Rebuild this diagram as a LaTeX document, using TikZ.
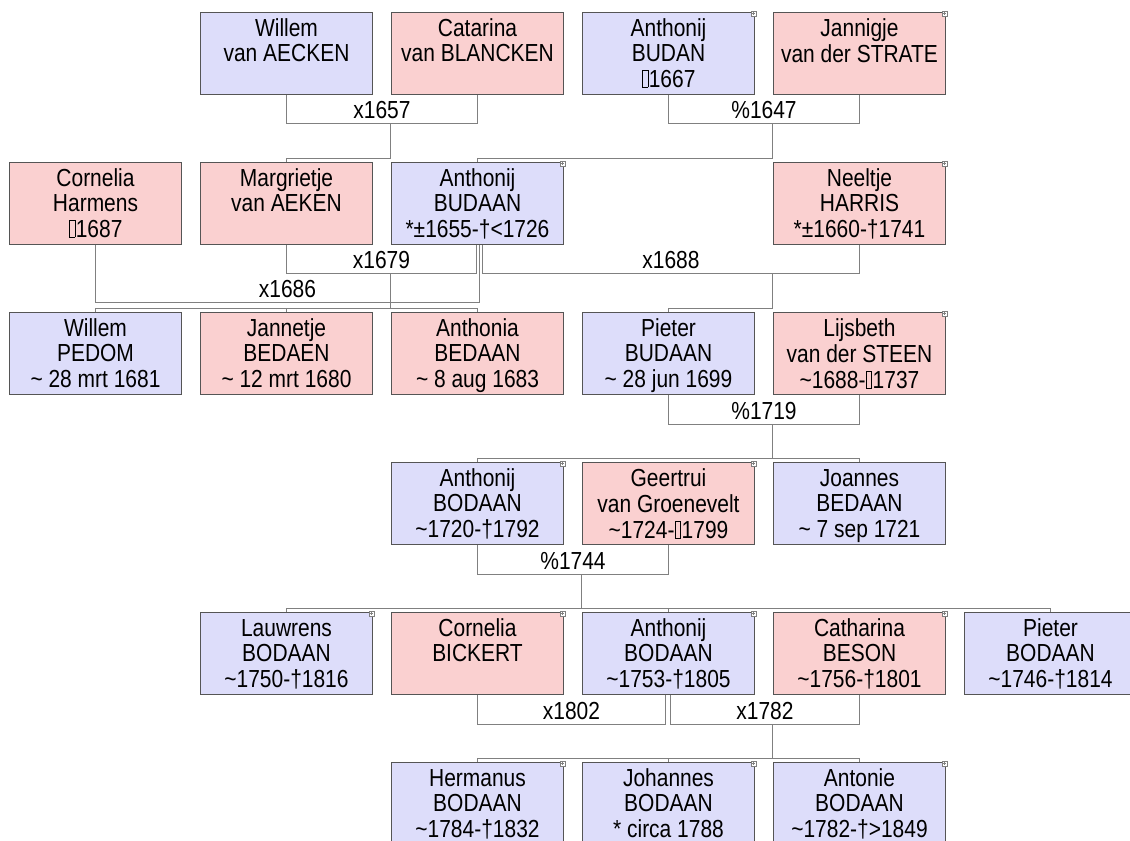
\documentclass[tikz,border=0pt]{standalone}
\usepackage{fontspec}
\setmainfont{Liberation Sans}
\newfontfamily\pfont{Liberation Sans}[FakeStretch=0.85]
\usetikzlibrary{calc}
\definecolor{mblue}{RGB}{221,221,250}
\definecolor{fpink}{RGB}{250,208,208}
\definecolor{bordc}{RGB}{85,85,85}
\definecolor{linec}{RGB}{128,128,128}
\newcommand{\tofu}{\kern0.6pt{\fboxrule=0.55pt\fboxsep=0pt\fbox{\rule{0pt}{12.6pt}\hspace{3.3pt}}}\kern0.4pt}
\newcommand{\tld}{\textasciitilde}
\newcommand{\tsz}{\fontsize{18.5pt}{19.1pt}\selectfont}
\newcommand{\pers}[5]{%
  \node[#2] (#1) at (#3,#4) {};
  \node[ptext] (#1-t) at ($(#1.north)+(0,6)$) {\strut #5};}
\newcommand{\xicon}[1]{%
  \draw[icon] ($(#1.north east)+(-4,-1)$) rectangle ($(#1.north east)+(1,4)$);
  \draw[icon] ($(#1.north east)+(-3,1.5)$) -- ($(#1.north east)+(0,1.5)$)
              ($(#1.north east)+(-1.5,0)$) -- ($(#1.north east)+(-1.5,3)$);}
\begin{document}
\begin{tikzpicture}[x=0.75pt,y=-0.75pt,
  pbox/.style={draw=bordc, line width=0.75pt, minimum width=129pt, minimum height=61.5pt, inner sep=0pt, anchor=north west},
  man/.style={pbox, fill=mblue},
  woman/.style={pbox, fill=fpink},
  ptext/.style={anchor=north, align=center, inner sep=0pt, font=\pfont\tsz},
  conn/.style={draw=linec, line width=0.75pt},
  mlabel/.style={anchor=base, yshift=3.75pt, inner sep=0pt, font=\pfont\tsz},
  icon/.style={draw=linec, fill=white, line width=0.4pt}]
\useasboundingbox (0,0) rectangle (1130,841);
\clip (0,0) rectangle (1130,841);
\fill[white] (0,0) rectangle (1130,841);

% row 1
\pers{wa}{man}{200}{12}{Willem\\van AECKEN}
\pers{cbl}{woman}{391}{12}{Catarina\\van BLANCKEN}
\pers{abn}{man}{582}{12}{Anthonij\\BUDAN\\\tofu1667}
\pers{jvs}{woman}{773}{12}{Jannigje\\van der STRATE}
% row 2
\pers{ch}{woman}{9}{162}{Cornelia\\Harmens\\\tofu1687}
\pers{mva}{woman}{200}{162}{Margrietje\\van AEKEN}
\pers{aba}{man}{391}{162}{Anthonij\\BUDAAN\\*±1655-†<1726}
\pers{nh}{woman}{773}{162}{Neeltje\\HARRIS\\*±1660-†1741}
% row 3
\pers{wp}{man}{9}{312}{Willem\\PEDOM\\\tld{} 28 mrt 1681}
\pers{jb}{woman}{200}{312}{Jannetje\\BEDAEN\\\tld{} 12 mrt 1680}
\pers{anb}{woman}{391}{312}{Anthonia\\BEDAAN\\\tld{} 8 aug 1683}
\pers{pb}{man}{582}{312}{Pieter\\BUDAAN\\\tld{} 28 jun 1699}
\pers{lvs}{woman}{773}{312}{Lijsbeth\\van der STEEN\\\tld1688-\tofu1737}
% row 4
\pers{abo}{man}{391}{462}{Anthonij\\BODAAN\\\tld1720-†1792}
\pers{gvg}{woman}{582}{462}{Geertrui\\van Groenevelt\\\tld1724-\tofu1799}
\pers{jbe}{man}{773}{462}{Joannes\\BEDAAN\\\tld{} 7 sep 1721}
% row 5
\pers{lb}{man}{200}{612}{Lauwrens\\BODAAN\\\tld1750-†1816}
\pers{cbi}{woman}{391}{612}{Cornelia\\BICKERT}
\pers{abd}{man}{582}{612}{Anthonij\\BODAAN\\\tld1753-†1805}
\pers{cbe}{woman}{773}{612}{Catharina\\BESON\\\tld1756-†1801}
\pers{pbo}{man}{964}{612}{Pieter\\BODAAN\\\tld1746-†1814}
% row 6
\pers{hb}{man}{391}{762}{Hermanus\\BODAAN\\\tld1784-†1832}
\pers{jo}{man}{582}{762}{Johannes\\BODAAN\\* circa 1788}
\pers{ab6}{man}{773}{762}{Antonie\\BODAAN\\\tld1782-†>1849}

% marriages and children
\draw[conn] (wa.south) -- ++(0,29) -| node[mlabel,pos=0.25] (m1657) {x1657} (cbl.south);
\coordinate (d1657) at ($(cbl.south west)+(-1,29)$);
\draw[conn] (d1657) |- ($(mva.north)+(0,-3.5)$) -- (mva.north);

\draw[conn] (abn.south) -- ++(0,29) -| node[mlabel,pos=0.25] (m1647) {\%1647} (jvs.south);
\coordinate (d1647) at ($(jvs.south west)+(-1,29)$);
\draw[conn] (d1647) |- ($(aba.north)+(0,-3.5)$) -- (aba.north);

\draw[conn] (mva.south) -- ++(0,29) -| node[mlabel,pos=0.25] (m1679) {x1679} ($(aba.south)+(-1,0)$);
\draw[conn] (ch.south) -- ++(0,58) -| node[mlabel,pos=0.25] (m1686) {x1686} ($(aba.south)+(2,0)$);
\draw[conn] ($(aba.south)+(5,0)$) -- ++(0,29) -| node[mlabel,pos=0.25] (m1688) {x1688} (nh.south);

\coordinate (d1679) at ($(aba.south west)+(-1,29)$);
\coordinate (r3) at ($(wp.north)+(0,-3.5)$);
\draw[conn] (d1679) -- (d1679 |- r3);
\draw[conn] (wp.north) -- (r3) -| (anb.north);
\draw[conn] (jb.north) -- (jb.north |- r3);

\coordinate (d1688) at ($(nh.south west)+(-1,29)$);
\draw[conn] (d1688) |- ($(pb.north)+(0,-3.5)$) -- (pb.north);

\draw[conn] (pb.south) -- ++(0,29) -| node[mlabel,pos=0.25] (m1719) {\%1719} (lvs.south);
\coordinate (d1719) at ($(lvs.south west)+(-1,29)$);
\coordinate (r4) at ($(abo.north)+(0,-3.5)$);
\draw[conn] (d1719) -- (d1719 |- r4);
\draw[conn] (abo.north) -- (r4) -| (jbe.north);

\draw[conn] (abo.south) -- ++(0,29) -| node[mlabel,pos=0.25] (m1744) {\%1744} (gvg.south);
\coordinate (d1744) at ($(gvg.south west)+(-1,29)$);
\coordinate (r5) at ($(lb.north)+(0,-3.5)$);
\draw[conn] (d1744) -- (d1744 |- r5);
\draw[conn] (lb.north) -- (r5) -| (pbo.north);
\draw[conn] (abd.north) -- (abd.north |- r5);

\draw[conn] (cbi.south) -- ++(0,29) -| node[mlabel,pos=0.25] (m1802) {x1802} ($(abd.south)+(-3,0)$);
\draw[conn] ($(abd.south)+(2,0)$) -- ++(0,29) -| node[mlabel,pos=0.25] (m1782) {x1782} (cbe.south);
\coordinate (d1782) at ($(cbe.south west)+(-1,29)$);
\coordinate (r6) at ($(hb.north)+(0,-3.5)$);
\draw[conn] (d1782) -- (d1782 |- r6);
\draw[conn] (hb.north) -- (r6) -| (ab6.north);
\draw[conn] (jo.north) -- (jo.north |- r6);

% expand icons
\foreach \n in {abn,jvs,aba,nh,lvs,abo,gvg,lb,cbi,abd,cbe,hb,jo,ab6} {\xicon{\n}}
\end{tikzpicture}
\end{document}
